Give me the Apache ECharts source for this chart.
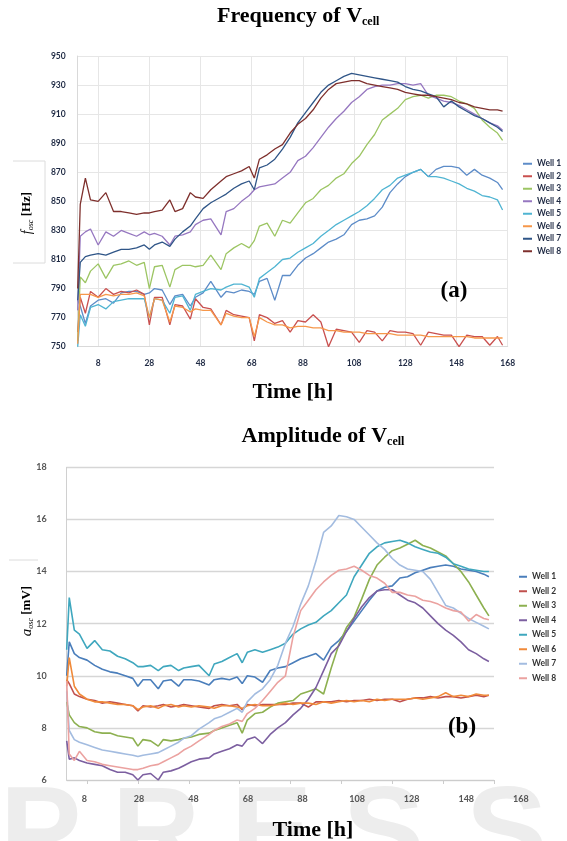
<!DOCTYPE html>
<html><head><meta charset="utf-8">
<script src="https://cdn.jsdelivr.net/npm/echarts@6/dist/echarts.min.js"></script>
<style>
html,body{margin:0;padding:0;background:#fff;width:567px;height:841px;overflow:hidden}
#a{position:absolute;left:0;top:0;width:567px;height:420px}
#b{position:absolute;left:0;top:420px;width:567px;height:421px}
</style>
</head><body><div id="a"></div><div id="b"></div>
<script>
// ---------- data ----------
const hours = [0,1,3,5,8, 11,14,17,20,23, 26,28,30,33,36, 38,41,44,46,49, 52,56,58,61,64, 67,69,71,74,77,
  80,83,86,89,92, 95,98,101,104,107, 110,113,116,119,122, 125,128,131,134,137, 140,143,146,149,152, 155,158,161,164,166];
const xTickValues = [8,28,48,68,88,108,128,148,168];
const wellNames = ['Well 1','Well 2','Well 3','Well 4','Well 5','Well 6','Well 7','Well 8'];

// Frequency of Vcell [Hz]
const freqWell1 = [782,778,766,778,782, 783,780,787,788,788, 786,787,790,789,779, 785,786,778,784,787, 795,784,788,787,789, 788,786,795,797,782,
  799,799,806,811,814, 818,822,824,827,834, 837,838,840,846,856, 862,867,870,872,867, 872,874,874,873,868, 872,868,866,863,858];
const freqWell2 = [760,784,773,788,784, 790,786,788,787,789, 786,765,784,784,765, 779,778,769,783,777, 776,765,775,772,771, 770,754,772,770,766,
  768,760,768,767,772, 767,750,762,761,760, 753,761,760,754,761, 760,760,759,751,760, 759,758,758,750,758, 757,757,751,757,751];
const freqWell3 = [754,798,794,802,807, 797,806,807,809,806, 808,790,805,806,791, 803,806,806,805,806, 813,803,814,818,821, 818,823,833,835,826,
  837,835,842,849,852, 858,861,866,869,876, 881,889,896,906,910, 914,920,922,923,921, 923,923,922,919,917, 914,906,901,897,892];
const freqWell4 = [775,826,829,831,820, 829,826,830,828,826, 829,827,828,826,820, 826,827,829,834,837, 838,827,843,845,850, 854,858,860,861,862,
  866,870,878,881,887, 894,901,907,912,918, 922,927,929,930,930, 931,931,930,931,923, 921,919,918,916,913, 910,907,904,902,899];
const freqWell5 = [750,772,764,777,779, 776,781,782,783,783, 783,770,783,782,773, 784,785,775,786,788, 790,789,791,793,793, 791,784,797,801,805,
  810,811,815,818,821, 826,830,834,837,840, 843,847,852,858,861, 866,868,870,872,867, 867,866,864,862,859, 857,854,853,851,844];
const freqWell6 = [752,786,786,786,784, 786,785,786,786,787, 785,770,783,782,767, 778,777,774,776,775, 775,765,773,771,770, 770,757,770,767,765,
  765,763,764,764,763, 763,761,761,760,760, 760,759,759,759,759, 758,758,758,758,757, 757,757,757,757,757, 756,756,756,756,756];
const freqWell7 = [782,808,812,813,814, 813,815,817,817,818, 820,817,820,822,819, 824,829,833,838,845, 849,853,855,859,862, 864,858,873,875,879,
  886,894,904,911,918, 925,930,933,936,938, 937,936,935,934,933, 932,929,927,926,924, 922,915,919,915,912, 909,907,904,901,898];
const freqWell8 = [790,848,866,851,850, 856,843,843,842,841, 842,842,843,844,851, 843,845,856,853,852, 858,864,867,869,871, 874,866,879,882,886,
  889,897,903,907,913, 921,927,931,932,933, 933,931,930,929,928, 927,925,924,923,923, 922,921,920,918,917, 915,914,913,913,912];

// Amplitude of Vcell [mV]
const ampWell1 = [10.0,11.3,10.85,10.7,10.6, 10.4,10.25,10.15,10.1,10.0, 9.9,9.6,9.85,9.85,9.5, 9.8,9.85,9.6,9.85,9.85, 9.8,9.65,9.85,9.9,9.85, 9.95,9.7,10.0,9.95,9.75,
  10.2,10.3,10.35,10.5,10.65, 10.75,10.85,10.6,11.1,11.35, 11.7,12.1,12.5,12.9,13.25, 13.4,13.45,13.75,13.8,13.95, 14.05,14.15,14.2,14.25,14.2, 14.1,14.05,14.0,13.9,13.8];
const ampWell2 = [9.85,9.7,9.3,9.2,9.1, 9.05,8.95,9.0,8.95,8.9, 8.85,8.65,8.85,8.8,8.85, 8.9,8.8,8.85,8.9,8.85, 8.8,8.75,8.85,8.9,8.85, 8.9,8.7,8.9,8.85,8.9,
  8.9,8.9,8.9,8.95,8.95, 8.8,9.0,9.0,9.0,9.05, 9.0,9.05,9.05,9.1,9.05, 9.1,9.1,9.0,9.1,9.15, 9.15,9.2,9.15,9.2,9.2, 9.15,9.2,9.25,9.2,9.25];
const ampWell3 = [9.0,8.5,8.2,8.05,8.0, 7.85,7.8,7.8,7.7,7.65, 7.6,7.3,7.55,7.5,7.3, 7.55,7.5,7.55,7.6,7.65, 7.75,7.8,7.9,8.0,8.1, 8.2,7.8,8.3,8.55,8.6,
  8.8,8.95,9.0,9.05,9.3, 9.4,9.5,9.3,10.3,11.2, 11.85,12.25,12.95,13.7,14.25, 14.55,14.8,14.9,15.05,15.2, 15.0,14.9,14.75,14.6,14.3, 14.0,13.6,13.1,12.6,12.3];
const ampWell4 = [7.5,6.8,6.85,6.75,6.65, 6.6,6.55,6.4,6.3,6.3, 6.2,6.0,6.2,6.25,6.0, 6.3,6.35,6.45,6.55,6.7, 6.8,6.85,7.0,7.1,7.2, 7.35,7.3,7.55,7.65,7.4,
  7.75,8.0,8.2,8.5,8.75, 9.1,9.55,10.2,10.85,11.15, 11.7,12.2,12.65,13.0,13.25, 13.3,13.3,13.1,12.9,12.8, 12.6,12.3,12.0,11.75,11.55, 11.3,11.0,10.85,10.65,10.55];
const ampWell5 = [11.0,13.0,11.75,11.6,11.05, 11.35,11.0,10.95,10.75,10.65, 10.5,10.35,10.35,10.4,10.2, 10.35,10.4,10.2,10.3,10.35, 10.4,10.0,10.45,10.55,10.7, 10.85,10.5,10.9,11.0,10.9,
  11.0,11.1,11.25,11.6,11.8, 11.95,12.05,12.3,12.5,12.8, 13.1,13.8,14.25,14.7,14.95, 15.1,15.15,15.2,15.1,14.95, 14.85,14.75,14.7,14.55,14.3, 14.2,14.1,14.05,14.0,14.0];
const ampWell6 = [9.6,10.7,9.6,9.3,9.1, 9.0,9.0,8.95,8.9,8.9, 8.85,8.7,8.8,8.85,8.75, 8.85,8.9,8.8,8.85,8.8, 8.85,8.8,8.75,8.85,8.85, 8.8,8.75,8.85,8.9,8.85,
  8.85,8.9,8.95,8.9,8.95, 8.95,8.9,9.0,8.95,9.0, 9.05,9.0,9.05,9.0,9.1, 9.05,9.1,9.1,9.1,9.15, 9.1,9.15,9.2,9.35,9.2, 9.25,9.2,9.3,9.25,9.25];
const ampWell7 = [9.4,7.9,7.55,7.45,7.35, 7.25,7.15,7.1,7.05,7.0, 6.95,6.9,6.95,7.0,7.05, 7.15,7.3,7.45,7.6,7.7, 7.95,8.2,8.35,8.45,8.6, 8.75,8.6,9.0,9.3,9.5,
  9.85,10.4,11.25,11.9,12.75, 13.45,14.4,15.5,15.75,16.15, 16.1,16.0,15.7,15.4,15.1, 14.85,14.5,14.25,14.1,14.05, 14.0,13.7,13.2,12.7,12.6, 12.4,12.2,12.05,11.9,11.8];
const ampWell8 = [9.8,7.0,6.75,7.1,6.75, 6.7,6.6,6.55,6.5,6.45, 6.4,6.4,6.45,6.55,6.6, 6.7,6.85,7.0,7.15,7.3, 7.5,7.75,7.9,8.05,8.15, 8.3,8.25,8.55,8.75,9.05,
  9.4,9.75,10.0,11.5,12.5, 12.9,13.3,13.6,13.85,14.05, 14.1,14.2,14.05,13.85,13.75, 13.55,13.2,13.2,13.1,13.05, 12.9,12.85,12.75,12.6,12.5, 12.45,12.1,12.35,12.2,12.15];

// ---------- styles ----------
const freqSeriesValues = [freqWell1,freqWell2,freqWell3,freqWell4,freqWell5,freqWell6,freqWell7,freqWell8];
const ampSeriesValues = [ampWell1,ampWell2,ampWell3,ampWell4,ampWell5,ampWell6,ampWell7,ampWell8];
const freqColors = ['#5D8CC8','#C9504F','#9CC563','#9677C0','#4FB4D2','#F6974A','#2F5587','#7E2F2C'];
const ampColors = ['#4A7EBB','#C0504D','#8DB050','#7C5FA0','#3FA7BE','#F08A3A','#A3BCE0','#EBA2A0'];
const SERIF = '"Liberation Serif", "Times New Roman", serif';
const pairs = vals => hours.map((h, i) => [h, vals[i]]);

// ---------- chart (a) ----------
const chartA = echarts.init(document.getElementById('a'), null, {renderer: 'canvas'});
chartA.setOption({
  animation: false,
  backgroundColor: '#ffffff',
  grid: {left: 77.7, top: 56, width: 430, height: 290.7},
  xAxis: {
    type: 'value', min: 0, max: 168,
    axisLine: {show: true, lineStyle: {color: '#d9d9d9'}},
    axisTick: {show: false, customValues: xTickValues},
    axisLabel: {customValues: xTickValues, margin: 12, color: '#1f2a44', fontSize: 8.5, fontWeight: 'bold', fontFamily: 'Lato'},
    splitLine: {show: true, lineStyle: {color: '#e6e6e6', width: 1}}
  },
  yAxis: {
    type: 'value', min: 750, max: 950, interval: 20,
    axisLine: {show: true, lineStyle: {color: '#d9d9d9'}},
    axisTick: {show: false},
    axisLabel: {margin: 12, color: '#1f2a44', fontSize: 8.5, fontWeight: 'bold', fontFamily: 'Lato'},
    splitLine: {show: true, lineStyle: {color: '#e6e6e6', width: 1}}
  },
  legend: {
    orient: 'vertical', left: 523, top: 157.5, padding: 0, itemGap: 0,
    icon: 'rect', itemWidth: 9, itemHeight: 2,
    textStyle: {fontFamily: 'Lato', fontWeight: 'bold', fontSize: 8.5, color: '#1f2a44', lineHeight: 12.5},
    data: wellNames
  },
  graphic: [
    {type: 'text', left: 217, top: 5, z: 10, style: {
      text: '{a|Frequency of V}{b|cell}',
      rich: {a: {font: 'bold 22px ' + SERIF, fill: '#000', lineHeight: 24},
             b: {font: 'bold 12px ' + SERIF, fill: '#000', verticalAlign: 'bottom', lineHeight: 12}}
    }},
    {type: 'text', x: 293, y: 392, z: 10, style: {text: 'Time [h]', font: 'bold 22px ' + SERIF, fill: '#000', align: 'center', verticalAlign: 'middle'}},
    {type: 'text', x: 454, y: 291, z: 10, style: {text: '(a)', font: 'bold 23px ' + SERIF, fill: '#000', align: 'center', verticalAlign: 'middle'}},
    {type: 'polyline', z: 1, shape: {points: [[13, 161], [45, 161], [45, 263], [13, 263]]}, style: {stroke: '#dcdcdc', lineWidth: 1, fill: null}},
    {type: 'text', x: 27, y: 213, rotation: Math.PI / 2, z: 10, style: {
      text: '{i|f}{s|osc}{b| [Hz]}', align: 'center', verticalAlign: 'middle',
      rich: {i: {font: 'italic 14px ' + SERIF, fill: '#000', lineHeight: 16},
             s: {font: 'italic 8px ' + SERIF, fill: '#000', verticalAlign: 'bottom', lineHeight: 9},
             b: {font: 'bold 13px ' + SERIF, fill: '#000', lineHeight: 16}}
    }}
  ],
  series: freqSeriesValues.map((vals, i) => ({
    name: wellNames[i], type: 'line', data: pairs(vals), symbol: 'none', smooth: false,
    lineStyle: {width: 1.3, color: freqColors[i]}, itemStyle: {color: freqColors[i]}
  }))
});

// ---------- chart (b) ----------
const chartB = echarts.init(document.getElementById('b'), null, {renderer: 'canvas'});
const watermarkLetters = ['P','R','E','S','S'];
const watermarkX = [0, 112, 231, 343, 466];
chartB.setOption({
  animation: false,
  backgroundColor: '#ffffff',
  grid: [
    {left: 66.7, top: 47.3, width: 427.3, height: 312.7},
    {left: 62.5, top: 359, width: 458.3, height: 1}
  ],
  xAxis: [
    {type: 'value', gridIndex: 0, min: 0, max: 168,
     axisLine: {show: true, lineStyle: {color: '#cccccc'}},
     axisTick: {show: true, customValues: xTickValues, length: 4, lineStyle: {color: '#cccccc'}},
     axisLabel: {show: false},
     splitLine: {show: false}},
    {type: 'value', gridIndex: 1, min: 0, max: 168,
     axisLine: {show: false}, axisTick: {show: false}, splitLine: {show: false},
     axisLabel: {customValues: xTickValues, margin: 15, color: '#555', fontSize: 9, fontWeight: 'bold', fontFamily: 'Lato'}}
  ],
  yAxis: [
    {type: 'value', gridIndex: 0, min: 6, max: 18, interval: 2,
     axisLine: {show: true, lineStyle: {color: '#d0d0d0'}},
     axisTick: {show: false},
     axisLabel: {margin: 20, color: '#555', fontSize: 9, fontWeight: 'bold', fontFamily: 'Lato'},
     splitLine: {show: true, lineStyle: {color: '#d6d6d6', width: 1.3}}},
    {type: 'value', gridIndex: 1, min: 0, max: 1, show: false}
  ],
  legend: {
    orient: 'vertical', left: 519, top: 149.5, padding: 0, itemGap: 0,
    icon: 'rect', itemWidth: 8, itemHeight: 2,
    textStyle: {fontFamily: 'Lato', fontWeight: 'bold', fontSize: 8.5, color: '#333', lineHeight: 14.5},
    data: wellNames
  },
  graphic: watermarkLetters.map((ch, i) => ({
    type: 'text', x: watermarkX[i], y: 418, z: 0,
    style: {text: ch, font: 'bold 122px "Liberation Sans", Arial, sans-serif', fill: '#ededed', align: 'left', verticalAlign: 'middle'}
  })).concat([
    {type: 'text', left: 241.6, top: 5, z: 10, style: {
      text: '{a|Amplitude of V}{b|cell}',
      rich: {a: {font: 'bold 22px ' + SERIF, fill: '#000', lineHeight: 24},
             b: {font: 'bold 12px ' + SERIF, fill: '#000', verticalAlign: 'bottom', lineHeight: 12}}
    }},
    {type: 'text', x: 313, y: 410, z: 10, style: {text: 'Time [h]', font: 'bold 22px ' + SERIF, fill: '#000', align: 'center', verticalAlign: 'middle'}},
    {type: 'text', x: 462, y: 307, z: 10, style: {text: '(b)', font: 'bold 23px ' + SERIF, fill: '#000', align: 'center', verticalAlign: 'middle'}},
    {type: 'line', z: 1, shape: {x1: 9, y1: 140, x2: 38, y2: 140}, style: {stroke: '#dcdcdc', lineWidth: 1}},
    {type: 'text', x: 27, y: 191, rotation: Math.PI / 2, z: 10, style: {
      text: '{i|a}{s|osc}{b| [mV]}', align: 'center', verticalAlign: 'middle',
      rich: {i: {font: 'italic 15px ' + SERIF, fill: '#000', lineHeight: 16},
             s: {font: 'italic 8px ' + SERIF, fill: '#000', verticalAlign: 'bottom', lineHeight: 9},
             b: {font: 'bold 13px ' + SERIF, fill: '#000', lineHeight: 16}}
    }}
  ]),
  series: ampSeriesValues.map((vals, i) => ({
    name: wellNames[i], type: 'line', xAxisIndex: 0, yAxisIndex: 0, data: pairs(vals), symbol: 'none', smooth: false,
    lineStyle: {width: 1.6, color: ampColors[i]}, itemStyle: {color: ampColors[i]}
  }))
});
</script>
</body></html>
